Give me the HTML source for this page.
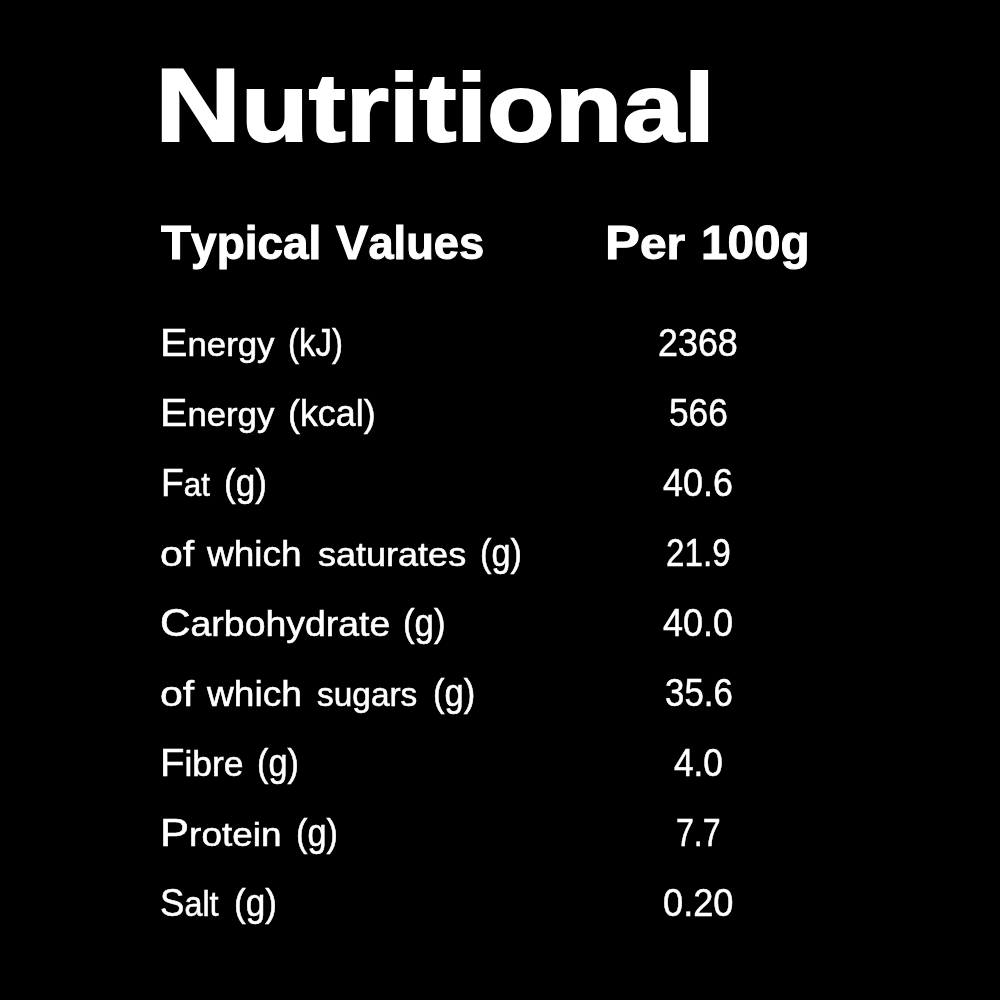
<!DOCTYPE html>
<html>
<head>
<meta charset="utf-8">
<title>Nutritional</title>
<style>
html,body{margin:0;padding:0;background:#000;}
body{position:relative;width:1000px;height:1000px;overflow:hidden;}
#c{position:absolute;left:0;top:0;width:1000px;height:1000px;will-change:transform;}
.w{position:absolute;white-space:nowrap;line-height:0;transform-origin:0 0;color:#fff;font-family:"Liberation Sans",Arial,Helvetica,sans-serif;}
.r{font-weight:normal;-webkit-text-stroke:0.55px #fff;}
.b{font-weight:bold;}
.h{-webkit-text-stroke:1.0px #fff;}
.t{-webkit-text-stroke:2.0px #fff;}
#w0::first-letter{font-size:104.63px}
#w1::first-letter{font-size:48.8px}
#w2::first-letter{font-size:48.8px}
#w3::first-letter{font-size:48.8px}
#w5::first-letter{font-size:39.21px}
#w8::first-letter{font-size:39.21px}
#w11::first-letter{font-size:39.21px}
#w19::first-letter{font-size:39.21px}
#w27::first-letter{font-size:39.21px}
#w30::first-letter{font-size:39.21px}
#w33::first-letter{font-size:39.21px}
</style>
</head>
<body>
<div id="c">
<div class="w b t" id="w0" style="left:155.02px;top:104.82px;font-size:97.17px;transform:scaleX(1.1397)">Nutritional</div>
<div class="w b h" id="w1" style="left:160.80px;top:242.00px;font-size:45.5px;transform:scaleX(1.0096)">Typical</div>
<div class="w b h" id="w2" style="left:336.20px;top:242.00px;font-size:45.5px;transform:scaleX(0.9946)">Values</div>
<div class="w b h" id="w3" style="left:605.12px;top:242.00px;font-size:44.7px;transform:scaleX(1.0717)">Per</div>
<div class="w b h" style="left:701.06px;top:242.00px;font-size:48.8px;transform:scaleX(0.9765)">100g</div>
<div class="w r" id="w5" style="left:159.87px;top:343.14px;font-size:33.18px;transform:scaleX(1.0494)">Energy</div>
<div class="w r" style="left:288.00px;top:343.14px;font-size:39.21px;transform:scaleX(0.8396)">(kJ)</div>
<div class="w r" style="left:658.43px;top:342.14px;font-size:39.62px;transform:scaleX(0.9053)">2368</div>
<div class="w r" id="w8" style="left:159.88px;top:413.09px;font-size:33.18px;transform:scaleX(1.0474)">Energy</div>
<div class="w r" style="left:287.98px;top:413.09px;font-size:37.2px;transform:scaleX(0.9643)">(kcal)</div>
<div class="w r" style="left:669.11px;top:412.09px;font-size:39.62px;transform:scaleX(0.8906)">566</div>
<div class="w r" id="w11" style="left:160.91px;top:483.05px;font-size:33.18px;transform:scaleX(0.9485)">Fat</div>
<div class="w r" style="left:223.64px;top:483.05px;font-size:38.21px;transform:scaleX(0.9187)">(g)</div>
<div class="w r" style="left:663.45px;top:482.05px;font-size:39.62px;transform:scaleX(0.9069)">40.6</div>
<div class="w r" style="left:159.84px;top:554.01px;font-size:35.19px;transform:scaleX(1.1644)">of</div>
<div class="w r" style="left:207.25px;top:554.01px;font-size:35.19px;transform:scaleX(1.0517)">which</div>
<div class="w r" style="left:317.56px;top:555.01px;font-size:33.18px;transform:scaleX(1.0859)">saturates</div>
<div class="w r" style="left:479.71px;top:553.01px;font-size:38.21px;transform:scaleX(0.8956)">(g)</div>
<div class="w r" style="left:665.65px;top:552.01px;font-size:39.62px;transform:scaleX(0.8380)">21.9</div>
<div class="w r" id="w19" style="left:160.45px;top:622.96px;font-size:34.69px;transform:scaleX(1.0794)">Carbohydrate</div>
<div class="w r" style="left:403.39px;top:622.96px;font-size:38.21px;transform:scaleX(0.9097)">(g)</div>
<div class="w r" style="left:663.46px;top:621.96px;font-size:39.62px;transform:scaleX(0.9079)">40.0</div>
<div class="w r" style="left:159.84px;top:693.92px;font-size:35.19px;transform:scaleX(1.1644)">of</div>
<div class="w r" style="left:207.26px;top:693.92px;font-size:35.19px;transform:scaleX(1.0544)">which</div>
<div class="w r" style="left:317.00px;top:694.92px;font-size:33.18px;transform:scaleX(1.0076)">sugars</div>
<div class="w r" style="left:432.67px;top:692.92px;font-size:38.21px;transform:scaleX(0.9024)">(g)</div>
<div class="w r" style="left:664.95px;top:691.92px;font-size:39.62px;transform:scaleX(0.8799)">35.6</div>
<div class="w r" id="w27" style="left:159.82px;top:762.90px;font-size:34.69px;transform:scaleX(1.0220)">Fibre</div>
<div class="w r" style="left:256.71px;top:762.90px;font-size:38.21px;transform:scaleX(0.8956)">(g)</div>
<div class="w r" style="left:674.00px;top:761.90px;font-size:39.62px;transform:scaleX(0.8889)">4.0</div>
<div class="w r" id="w30" style="left:159.55px;top:832.85px;font-size:33.18px;transform:scaleX(1.1132)">Protein</div>
<div class="w r" style="left:295.71px;top:832.85px;font-size:38.21px;transform:scaleX(0.8956)">(g)</div>
<div class="w r" style="left:676.19px;top:831.85px;font-size:39.62px;transform:scaleX(0.8113)">7.7</div>
<div class="w r" id="w33" style="left:160.07px;top:902.81px;font-size:34.69px;transform:scaleX(0.9337)">Salt</div>
<div class="w r" style="left:233.64px;top:902.81px;font-size:38.21px;transform:scaleX(0.9187)">(g)</div>
<div class="w r" style="left:663.09px;top:901.81px;font-size:39.62px;transform:scaleX(0.9142)">0.20</div>
</div>
</body>
</html>
